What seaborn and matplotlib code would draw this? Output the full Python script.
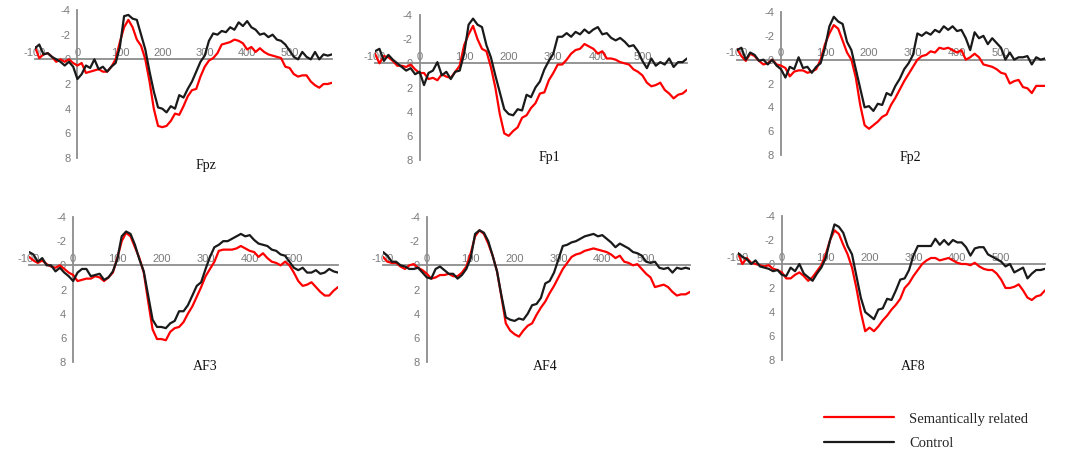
import matplotlib
matplotlib.use('Agg')
import numpy as np
import pandas as pd
import matplotlib.pyplot as plt
import seaborn as sns

# time axis in ms (x values are the sample times, 10 ms apart)
times = list(range(-100, 610, 10))
channels = ['Fpz', 'Fp1', 'Fp2', 'AF3', 'AF4', 'AF8']
conditions = ['Semantically related', 'Control']

# amplitudes (microvolts, negative up)
fpz_related = [-1.0, -0.1, -0.4, -0.5, -0.2, 0.2, 0.0, 0.2, 0.0, 0.3,
               0.5, 0.3, 1.1, 1.0, 0.9, 0.8, 1.0, 1.0, 0.6, 0.0,
               -1.4, -2.6, -3.2, -2.6, -1.6, -1.1, 0.0, 1.8, 4.0, 5.4,
               5.5, 5.4, 5.0, 4.4, 4.5, 3.8, 3.0, 2.5, 2.4, 1.4,
               0.6, 0.1, -0.1, -0.5, -1.2, -1.3, -1.4, -1.6, -1.5, -1.3,
               -0.8, -1.0, -0.6, -0.9, -0.6, -0.4, -0.3, -0.2, -0.1, 0.6,
               0.7, 1.2, 1.4, 1.3, 1.3, 1.8, 2.1, 2.3, 2.0, 2.0,
               1.9]
fpz_control = [-0.9, -1.2, -0.4, -0.5, -0.2, 0.0, 0.2, 0.5, 0.2, 0.6,
               1.6, 1.2, 0.5, 0.7, 0.0, 0.8, 0.6, 1.0, 0.6, 0.3,
               -1.0, -3.5, -3.6, -3.3, -3.2, -2.0, -0.8, 1.0, 2.6, 3.9,
               4.0, 4.3, 3.8, 4.0, 2.9, 3.1, 2.4, 1.8, 1.0, 0.2,
               -0.3, -1.5, -2.1, -2.0, -2.3, -2.2, -2.6, -2.4, -3.0, -2.7,
               -3.1, -2.6, -2.4, -2.0, -2.1, -1.8, -2.0, -1.6, -1.5, -1.2,
               -0.7, -0.2, 0.0, -0.6, -0.2, 0.0, -0.6, 0.0, -0.4, -0.3,
               -0.4]
fp1_related = [-0.8, 0.0, -0.6, -0.5, -0.2, 0.2, 0.2, 0.3, 0.1, 0.5,
               0.8, 0.8, 1.3, 1.2, 1.4, 0.9, 1.1, 1.2, 0.7, 0.2,
               -1.5, -2.4, -3.1, -2.0, -1.2, -1.0, 0.3, 2.0, 4.2, 5.8,
               6.0, 5.6, 5.3, 4.5, 4.3, 3.7, 3.3, 2.5, 2.4, 1.4,
               0.8, 0.1, 0.1, -0.3, -0.8, -1.1, -1.2, -1.6, -1.4, -1.2,
               -0.8, -1.0, -0.4, -0.4, -0.3, -0.1, 0.0, 0.1, 0.5, 0.7,
               1.0, 1.6, 1.9, 1.8, 1.6, 2.2, 2.5, 2.9, 2.6, 2.5,
               2.2]
fp1_control = [-1.0, -1.2, -0.2, -0.7, -0.3, 0.0, 0.3, 0.6, 0.4, 0.9,
               0.7, 1.8, 0.8, 0.6, -0.1, 1.0, 0.7, 1.3, 0.7, 0.6,
               -0.8, -3.2, -3.7, -3.2, -3.0, -1.5, -0.5, 1.0, 2.4, 3.8,
               4.2, 4.3, 3.8, 3.9, 2.6, 2.8, 2.0, 1.5, 0.5, -0.2,
               -0.8, -2.2, -2.2, -2.5, -2.2, -2.6, -2.4, -2.8, -2.5, -2.8,
               -3.0, -2.4, -2.5, -2.1, -1.9, -2.1, -1.8, -1.4, -1.5, -1.0,
               -0.2, 0.4, -0.4, 0.2, -0.1, 0.1, -0.4, 0.3, -0.1, -0.1,
               -0.4]
fp2_related = [-0.9, -0.3, 0.1, -0.5, -0.3, 0.1, 0.4, 0.3, 0.0, 0.4,
               0.5, 0.7, 1.4, 1.0, 0.9, 0.9, 1.1, 1.0, 0.8, 0.0,
               -1.3, -2.2, -2.9, -2.6, -1.6, -0.6, 0.0, 1.5, 3.8, 5.5,
               5.8, 5.5, 5.2, 4.8, 4.6, 3.8, 3.2, 2.5, 1.8, 1.2,
               0.6, 0.0, -0.3, -0.4, -0.7, -0.6, -1.0, -0.9, -1.0, -0.8,
               -0.6, -0.8, 0.0, -0.2, -0.5, -0.2, 0.4, 0.5, 0.6, 0.8,
               1.1, 1.2, 2.0, 1.8, 1.7, 2.3, 2.4, 2.8, 2.2, 2.2,
               2.2]
fp2_control = [-0.8, -1.0, 0.0, -0.6, -0.4, 0.1, 0.0, 0.4, 0.0, 0.5,
               0.8, 1.5, 0.6, 0.8, -0.2, 0.7, 0.6, 1.1, 0.6, 0.3,
               -1.0, -2.8, -3.6, -3.2, -3.0, -1.5, -0.8, 0.8, 2.4, 4.0,
               3.9, 4.3, 3.7, 3.8, 2.8, 3.0, 2.2, 1.6, 0.8, 0.3,
               -0.4, -2.2, -2.0, -2.3, -2.1, -2.5, -2.3, -2.8, -2.5, -2.8,
               -2.4, -2.5, -1.8, -0.8, -2.3, -1.8, -2.0, -1.3, -1.8, -1.4,
               -1.0, 0.0, -0.6, 0.0, -0.2, -0.2, -0.3, 0.4, -0.2, 0.0,
               -0.1]
af3_related = [-0.7, -0.4, -0.2, -0.4, -0.1, 0.1, 0.2, 0.0, 0.3, 0.6,
               0.8, 1.3, 1.2, 1.1, 1.1, 0.9, 1.0, 1.3, 1.0, 0.6,
               -0.6, -2.0, -2.7, -2.4, -1.5, -0.6, 0.6, 3.0, 5.3, 6.1,
               6.1, 6.2, 5.5, 5.2, 5.1, 4.7, 4.0, 3.4, 2.6, 1.8,
               0.9, 0.3, -0.3, -1.2, -1.3, -1.3, -1.3, -1.4, -1.6, -1.4,
               -1.2, -1.1, -0.7, -1.0, -0.6, -0.3, -0.2, 0.0, -0.3, 0.0,
               0.6, 1.3, 1.7, 1.6, 1.4, 1.8, 2.2, 2.5, 2.5, 2.1,
               1.8]
af3_control = [-1.1, -0.9, -0.3, -0.6, 0.0, 0.0, 0.5, 0.2, 0.6, 0.9,
               1.3, 0.6, 0.3, 0.3, 0.9, 0.8, 0.7, 1.2, 1.0, 0.5,
               -0.5, -2.4, -2.8, -2.6, -1.7, -0.5, 0.5, 2.5, 4.5, 5.1,
               5.1, 5.2, 4.8, 4.6, 3.8, 3.8, 3.3, 2.5, 1.7, 1.4,
               0.3, -0.7, -1.5, -1.7, -2.0, -2.0, -2.2, -2.4, -2.6, -2.4,
               -2.5, -2.1, -1.8, -1.7, -1.6, -1.3, -1.2, -0.9, -0.8, -0.3,
               0.2, 0.4, 0.2, 0.6, 0.6, 0.4, 0.7, 0.6, 0.3, 0.5,
               0.6]
af4_related = [-0.7, -0.3, -0.2, -0.2, 0.1, 0.3, 0.0, -0.1, 0.2, 0.4,
               0.7, 1.1, 1.0, 0.8, 0.8, 0.7, 0.9, 0.9, 0.6, 0.1,
               -1.0, -2.4, -2.9, -2.6, -1.8, -0.8, 0.5, 2.6, 4.8, 5.4,
               5.7, 5.9, 5.4, 5.0, 4.8, 4.1, 3.5, 3.0, 2.3, 1.7,
               1.0, 0.3, -0.2, -0.7, -0.9, -1.0, -1.2, -1.3, -1.4, -1.3,
               -1.2, -1.1, -0.9, -0.6, -0.8, -0.3, -0.2, 0.0, -0.1, 0.3,
               0.7, 1.0, 1.8, 1.7, 1.6, 1.8, 2.2, 2.5, 2.4, 2.4,
               2.2]
af4_control = [-1.1, -0.8, -0.3, -0.3, 0.0, 0.1, 0.3, 0.3, 0.2, 0.6,
               1.0, 1.1, 0.3, 0.1, 0.4, 0.7, 0.7, 1.1, 0.8, 0.3,
               -0.6, -2.6, -2.9, -2.7, -2.0, -0.8, 0.5, 2.5, 4.3, 4.5,
               4.6, 4.4, 4.5, 4.0, 3.3, 3.2, 2.7, 1.5, 1.3, 0.6,
               -0.5, -1.6, -1.7, -1.9, -2.0, -2.2, -2.4, -2.5, -2.6, -2.4,
               -2.5, -2.2, -1.9, -1.5, -1.8, -1.6, -1.4, -1.1, -1.0, -0.8,
               -0.3, -0.2, -0.3, 0.2, 0.3, 0.2, 0.6, 0.2, 0.3, 0.2,
               0.3]
af8_related = [-0.9, 0.0, -0.5, -0.1, 0.0, 0.1, 0.2, 0.1, 0.4, 0.5,
               0.7, 1.2, 1.2, 0.9, 0.7, 1.0, 1.4, 1.1, 0.6, 0.1,
               -0.8, -2.0, -2.8, -2.5, -1.6, -0.8, 0.3, 2.0, 4.0, 5.6,
               5.3, 5.6, 5.2, 4.7, 4.3, 3.8, 3.4, 2.9, 2.0, 1.6,
               1.0, 0.5, 0.0, -0.3, -0.5, -0.5, -0.3, -0.4, -0.5, -0.3,
               -0.1, 0.0, 0.0, 0.1, -0.1, 0.2, 0.4, 0.5, 0.5, 0.8,
               1.3, 2.0, 2.0, 1.9, 1.7, 2.2, 2.8, 3.0, 2.7, 2.6,
               2.2]
af8_control = [-0.9, -0.6, -0.4, 0.0, -0.3, 0.2, 0.3, 0.4, 0.6, 0.5,
               0.9, 1.0, 0.3, 0.6, 0.0, 0.8, 1.1, 1.4, 0.8, 0.3,
               -0.5, -2.0, -3.3, -3.1, -2.6, -1.5, -0.8, 1.0, 2.8, 4.0,
               4.3, 4.6, 3.8, 3.7, 2.9, 3.0, 2.2, 1.3, 1.2, 0.5,
               -0.7, -1.5, -1.5, -1.5, -1.5, -2.1, -1.6, -2.0, -1.6, -2.0,
               -1.8, -1.8, -1.4, -0.7, -1.3, -1.4, -1.4, -0.8, -0.6, -0.4,
               -0.2, 0.2, 0.0, 0.7, 0.5, 0.3, 1.2, 0.8, 0.5, 0.5,
               0.4]

series = {
    'Fpz': (fpz_related, fpz_control),
    'Fp1': (fp1_related, fp1_control),
    'Fp2': (fp2_related, fp2_control),
    'AF3': (af3_related, af3_control),
    'AF4': (af4_related, af4_control),
    'AF8': (af8_related, af8_control),
}

rows = []
for ch in channels:
    for cond, vals in zip(conditions, series[ch]):
        for t, v in zip(times, vals):
            rows.append((ch, cond, t, v))
df = pd.DataFrame(rows, columns=['channel', 'condition', 'time', 'amp'])

W, H = 1084, 451
# pixel boxes of each panel: x(-100), x(600), y(-4), y(8)
boxes = {
    'Fpz': (35, 332, 10, 158),
    'Fp1': (375, 687, 15, 160),
    'Fp2': (737, 1045, 12, 155),
    'AF3': (29, 338, 217, 362),
    'AF4': (383, 690, 217, 362),
    'AF8': (738, 1045, 216, 360),
}
title_pos = {
    'Fpz': (206, 166), 'Fp1': (549, 157), 'Fp2': (910, 158),
    'AF3': (205, 366), 'AF4': (545, 366), 'AF8': (913, 366),
}

sns.set_style('white')
plt.rcParams['font.family'] = ['Liberation Sans', 'DejaVu Sans']
plt.rcParams['axes.unicode_minus'] = False

palette = {'Semantically related': '#ff0000', 'Control': '#1a1a1a'}
axis_grey = '#8c8c8c'
label_grey = '#7a7a7a'

fig = plt.figure(figsize=(W / 100, H / 100), dpi=100)

for ch in channels:
    x0, x1, y0, y1 = boxes[ch]
    ax = fig.add_axes([x0 / W, 1 - y1 / H, (x1 - x0) / W, (y1 - y0) / H])
    ax.patch.set_alpha(0)
    sns.lineplot(data=df[df.channel == ch], x='time', y='amp',
                 hue='condition', hue_order=conditions, palette=palette,
                 estimator=None, legend=False, lw=1.6, zorder=3, ax=ax)
    ax.set_xlim(-100, 600)
    ax.set_ylim(8, -4)
    ax.spines['right'].set_visible(False)
    ax.spines['bottom'].set_visible(False)
    ax.spines['left'].set_position(('data', 0))
    ax.spines['top'].set_position(('data', 0))
    for s in ['left', 'top']:
        ax.spines[s].set_color(axis_grey)
        ax.spines[s].set_linewidth(1.3)
    ax.xaxis.set_ticks_position('top')
    ax.set_xticks(range(-100, 600, 100))
    ax.set_yticks(range(-4, 10, 2))
    ax.tick_params(axis='x', length=0, pad=1, labelsize=8, labelcolor=label_grey)
    ax.tick_params(axis='y', length=3, width=1, direction='out', color=axis_grey,
                   pad=2, labelsize=8, labelcolor=label_grey)
    ax.set_xlabel('')
    ax.set_ylabel('')
    tx, ty = title_pos[ch]
    fig.text(tx / W, 1 - ty / H, ch, ha='center', va='center',
             family='Liberation Serif', fontsize=10, color='#111111')
    if ch == 'Fpz':
        handles = ax.get_lines()[:2]

fig.legend(handles, conditions, loc='upper left',
           bbox_to_anchor=(817 / W, 1 - 405 / H), frameon=False,
           borderpad=0, handlelength=4.8, handletextpad=1.0,
           labelspacing=0.75, prop={'family': 'Liberation Serif', 'size': 10.5})

fig.savefig('out.png', dpi=100)
